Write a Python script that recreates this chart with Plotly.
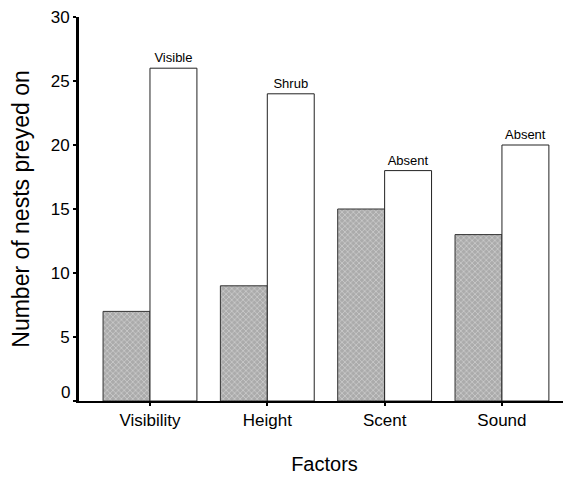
import plotly.graph_objects as go

categories = ["Visibility", "Height", "Scent", "Sound"]
gray_values = [7, 9, 15, 13]
white_values = [26, 24, 18, 20]
white_labels = ["Visible", "Shrub", "Absent", "Absent"]
y_ticks = [0, 5, 10, 15, 20, 25, 30]

FONT = "Liberation Sans, Arial, sans-serif"

fig = go.Figure()
fig.add_trace(go.Bar(
    x=categories, y=gray_values,
    marker=dict(color="#b0b0b0",
                line=dict(color="#333333", width=1),
                pattern=dict(shape="x", bgcolor="#ababab", fgcolor="#d4d4d4",
                             size=4, solidity=0.3, fillmode="replace")),
    offsetgroup=0, showlegend=False,
))
fig.add_trace(go.Bar(
    x=categories, y=white_values,
    marker=dict(color="white", line=dict(color="#222222", width=1)),
    text=white_labels, textposition="outside", cliponaxis=False,
    textfont=dict(family=FONT, size=13, color="black"),
    offsetgroup=1, showlegend=False,
))

# the "0" tick label sits slightly above the axis line in the original
fig.add_annotation(
    x=0, xref="paper", y=y_ticks[0], yref="y",
    text=str(y_ticks[0]), showarrow=False,
    xanchor="right", yanchor="middle", xshift=-7, yshift=9,
    font=dict(size=17, family=FONT, color="black"),
)

fig.update_layout(
    width=563, height=472,
    margin=dict(l=71, r=1, t=9, b=79),
    paper_bgcolor="white", plot_bgcolor="white",
    barmode="group", bargap=0.2, bargroupgap=0,
    font=dict(family=FONT, color="black"),
)
fig.update_xaxes(
    range=[-0.605, 3.58],
    showline=True, linecolor="black", linewidth=1.5,
    ticks="outside", ticklen=3, tickwidth=2, tickcolor="black",
    tickfont=dict(size=17, family=FONT),
    title=dict(text="Factors", font=dict(size=20, family=FONT), standoff=28),
    showgrid=False, zeroline=False,
)
fig.update_yaxes(
    range=[0, 30],
    tickvals=y_ticks,
    ticktext=[""] + [str(v) for v in y_ticks[1:]],
    ticklabeloverflow="allow",
    showline=True, linecolor="black", linewidth=3,
    ticks="outside", ticklen=3, tickwidth=1.5, tickcolor="black",
    tickfont=dict(size=17, family=FONT),
    title=dict(text="Number of nests preyed on", font=dict(size=23, family=FONT), standoff=15),
    showgrid=False, zeroline=False,
)

fig.write_html("out.html")
